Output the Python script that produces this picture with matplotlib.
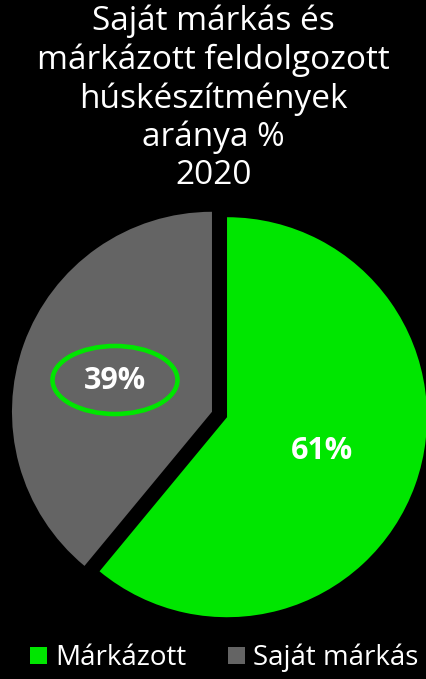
import matplotlib.pyplot as plt
from matplotlib.patches import Ellipse

labels = ["Márkázott", "Saját márkás"]
values = [61, 39]
colors = ["#00e600", "#646464"]
title = "Saját márkás és\nmárkázott feldolgozott\nhúskészítmények\naránya %\n2020"

plt.rcParams['font.family'] = ['Open Sans', 'DejaVu Sans']

fig = plt.figure(figsize=(4.27, 6.79), dpi=100, facecolor="black")
ax = fig.add_axes([0, 0, 1, 1])
ax.set_facecolor("black")
ax.axis("off")

# pie centre / radius in pixel units (y measured from bottom)
wedges, _ = ax.pie(values, colors=colors, startangle=90, counterclock=False,
                   center=(219.5, 264.5), radius=200, explode=[8, 8],
                   wedgeprops=dict(linewidth=0))
ax.set_xlim(0, 427)
ax.set_ylim(0, 679)
ax.set_aspect("equal")

ax.text(322, 679 - 451, f"{values[0]}%", color="white", fontsize=22,
        fontweight="bold", ha="center", va="center")
ax.text(115, 679 - 381, f"{values[1]}%", color="white", fontsize=22,
        fontweight="bold", ha="center", va="center")
ax.add_patch(Ellipse((115, 679 - 380), 125, 68, fill=False,
                     edgecolor=colors[0], linewidth=3.3))

fig.text(0.5, 1 - 5 / 679, title, color="white", fontsize=24, ha="center",
         va="top", linespacing=1.2)

leg = ax.legend(wedges, labels, loc="lower center", bbox_to_anchor=(0.525, -0.027),
                ncol=2, frameon=False, fontsize=20, handlelength=0.6,
                handleheight=0.6, handletextpad=0.3, columnspacing=1.5,
                labelcolor="white")

fig.savefig("out.png", facecolor="black")
